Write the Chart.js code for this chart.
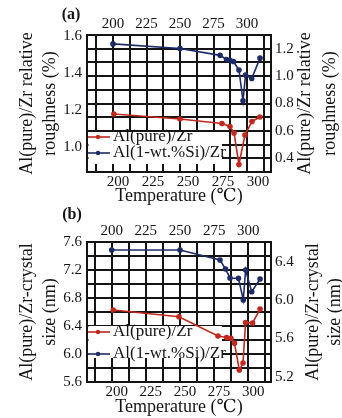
<!DOCTYPE html>
<html><head><meta charset="utf-8">
<script src="https://cdn.jsdelivr.net/npm/chart.js@4.4.1/dist/chart.umd.min.js"></script>
<style>
html,body{margin:0;padding:0;background:#fff;}
#wrap{position:relative;width:342px;height:418px;overflow:hidden;background:#fff;}
canvas{position:absolute;left:0;}
</style></head><body>
<div id="wrap">
<canvas id="ca" width="342" height="205" style="top:0px"></canvas>
<canvas id="cb" width="342" height="213" style="top:205px"></canvas>
</div>
<script>
// ---------- data ----------
const seriesNames = ['Al(pure)/Zr', 'Al(1-wt.%Si)/Zr'];

// Panel (a): relative roughness (%)
const tempPureA  = [197.1, 244.3, 274.3, 280.0, 282.9, 286.4, 290.7, 295.7, 301.4];
const roughPureA = [0.723, 0.687, 0.654, 0.632, 0.585, 0.355, 0.570, 0.669, 0.701];
const tempSiA    = [200, 250, 279.9, 284.7, 287.3, 289.9, 294.0, 297.0, 298.9, 303.5, 309.7];
const roughSiA   = [1.557, 1.532, 1.495, 1.473, 1.468, 1.462, 1.416, 1.250, 1.389, 1.370, 1.480];

// Panel (b): crystal size (nm)
const tempPureB  = [197.5, 245.6, 274.2, 280.5, 283.7, 286.3, 289.8, 292.5, 294.4, 299.5, 305.0];
const sizePureB  = [5.896, 5.826, 5.625, 5.609, 5.601, 5.549, 5.270, 5.343, 5.766, 5.761, 5.906];
const tempSiB    = [200, 250, 279.3, 283.3, 286.6, 292.8, 296.3, 298.0, 302.5, 308.6];
const sizeSiB    = [7.486, 7.486, 7.343, 7.214, 7.086, 7.081, 6.771, 7.200, 6.890, 7.071];

// tick labels
const tempTicks        = [200, 225, 250, 275, 300];
const roughLeftTicksA  = [1.0, 1.2, 1.4, 1.6];
const roughRightTicksA = [0.4, 0.6, 0.8, 1.0, 1.2];
const sizeLeftTicksB   = [5.6, 6.0, 6.4, 6.8, 7.2, 7.6];
const sizeRightTicksB  = [5.2, 5.6, 6.0, 6.4];

// titles
const xTitle = 'Temperature (℃)';
const roughTitle = ['Al(pure)/Zr relative', 'roughness (%)'];
const sizeTitle  = ['Al(pure)/Zr-crystal', 'size (nm)'];

// ---------- drawing ----------
const FONT = 'Liberation Serif, DejaVu Serif, serif';
const INK = 'rgb(20,20,20)';
const RED = 'rgb(192,41,30)';
const BLUE = 'rgb(29,43,102)';
const W = 342;

function pts(xs, ys) { return xs.map((x, i) => ({x: x, y: ys[i]})); }
function stepValues(a, b, s) {
  const out = [];
  for (let k = 0; a + k * s <= b + 1e-9; k++) out.push(Math.round((a + k * s) * 1000) / 1000);
  return out;
}
function has(list, v) { return list.some(t => Math.abs(t - v) < 1e-6); }

function panel(id, P) {
  const H = P.height;
  const tickFont = {family: FONT, size: 15, lineHeight: 1};
  const decor = {
    id: 'decor',
    beforeDatasetsDraw(chart) {
      const {ctx, chartArea: ca} = chart;
      ctx.save();
      ctx.fillStyle = '#ffffff';
      ctx.fillRect(ca.left + 1.5, P.legendTop, P.legendRight - ca.left - 1.5, P.legendBottom - P.legendTop);
      P.legendRows.forEach(row => {
        const y = row.y;
        ctx.strokeStyle = row.color; ctx.lineWidth = 1.6;
        ctx.beginPath(); ctx.moveTo(ca.left + 1, y); ctx.lineTo(ca.left + 23, y); ctx.stroke();
        ctx.fillStyle = row.color;
        ctx.beginPath(); ctx.arc(ca.left + 11, y, 2.2, 0, Math.PI * 2); ctx.fill();
        ctx.fillStyle = INK; ctx.font = '17px ' + FONT;
        ctx.textAlign = 'left'; ctx.textBaseline = 'middle';
        ctx.fillText(row.label, ca.left + 26, y);
      });
      ctx.restore();
    },
    afterDraw(chart) {
      const {ctx, chartArea: ca} = chart;
      ctx.save();
      ctx.fillStyle = INK;
      ctx.textAlign = 'center'; ctx.textBaseline = 'middle';
      ctx.font = 'bold 16px ' + FONT;
      ctx.fillText(P.letter, P.letterX, P.letterY);
      ctx.font = '18px ' + FONT;
      const cy = (ca.top + ca.bottom) / 2;
      const drawV = (txt, x) => {
        ctx.save(); ctx.translate(x, cy); ctx.rotate(-Math.PI / 2);
        ctx.fillText(txt, 0, 0); ctx.restore();
      };
      P.leftTitle.forEach((t, i) => drawV(t, P.leftTitleX[i]));
      P.rightTitle.forEach((t, i) => drawV(t, P.rightTitleX[i]));
      ctx.restore();
    }
  };

  const yAxis = (pos, A, gridOn) => ({
    type: 'linear', axis: 'y', position: pos, min: A.min, max: A.max,
    afterBuildTicks: s => { s.ticks = A.values.map(v => ({value: v})); },
    afterFit: s => { s.width = pos === 'left' ? P.plotLeft : W - P.plotRight; },
    grid: {display: gridOn, drawOnChartArea: true, drawTicks: false, color: INK, lineWidth: 2},
    border: {display: true, color: INK, width: 2},
    ticks: {autoSkip: false, padding: pos === 'left' ? 5 : 4, color: INK, font: tickFont,
            callback: v => has(A.labels, v) ? v.toFixed(1) : ''}
  });

  return new Chart(document.getElementById(id), {
    type: 'line',
    data: {
      datasets: [
        {label: seriesNames[0], data: pts(P.redX, P.redY), xAxisID: 'xb', yAxisID: P.redAxis,
         borderColor: RED, backgroundColor: RED, pointBackgroundColor: RED, fill: false,
         pointBorderColor: RED, borderWidth: 1.6, pointRadius: 2, tension: 0},
        {label: seriesNames[1], data: pts(P.blueX, P.blueY), xAxisID: 'xt', yAxisID: P.blueAxis,
         borderColor: BLUE, backgroundColor: BLUE, pointBackgroundColor: BLUE, fill: false,
         pointBorderColor: BLUE, borderWidth: 1.6, pointRadius: 2, tension: 0}
      ]
    },
    options: {
      responsive: false, animation: false, maintainAspectRatio: false,
      layout: {padding: 0},
      plugins: {legend: {display: false}, tooltip: {enabled: false}},
      scales: {
        xt: {
          type: 'linear', axis: 'x', position: 'top', min: P.xtMin, max: P.xtMax,
          afterBuildTicks: s => { s.ticks = P.vGrid.map(v => ({value: v})); },
          afterFit: s => { s.height = P.plotTop; },
          grid: {display: true, drawOnChartArea: true, drawTicks: false, color: INK, lineWidth: 2},
          border: {display: true, color: INK, width: 2},
          ticks: {autoSkip: false, minRotation: 0, maxRotation: 0, padding: 3, color: INK, font: tickFont,
                  callback: v => has(tempTicks, v) ? String(v) : ''}
        },
        xb: {
          type: 'linear', axis: 'x', position: 'bottom', min: P.xbMin, max: P.xbMax,
          afterBuildTicks: s => { s.ticks = tempTicks.map(v => ({value: v})); },
          afterFit: s => { s.height = H - P.plotBottom; },
          grid: {display: false, drawTicks: false},
          border: {display: true, color: INK, width: 2},
          ticks: {autoSkip: false, minRotation: 0, maxRotation: 0, padding: 3, color: INK, font: tickFont,
                  callback: v => String(v)},
          title: {display: true, text: xTitle, color: INK,
                  font: {family: FONT, size: 18, lineHeight: 1}, padding: {top: 0, bottom: P.xTitlePad}}
        },
        yl: yAxis('left', P.yl, P.hGridAxis === 'yl'),
        yr: yAxis('right', P.yr, P.hGridAxis === 'yr')
      }
    },
    plugins: [decor]
  });
}

panel('ca', {
  height: 205, plotTop: 35, plotBottom: 172, plotLeft: 87, plotRight: 271,
  xtMin: 180.6, xtMax: 317.9, xbMin: 177.9, xbMax: 309.3, xTitlePad: 0,
  yl: {min: 0.865, max: 1.605, values: roughLeftTicksA, labels: roughLeftTicksA},
  yr: {min: 0.3, max: 1.3, values: stepValues(0.4, 1.2, 0.1), labels: roughRightTicksA},
  vGrid: stepValues(187.5, 312.5, 12.5), hGridAxis: 'yr',
  redX: tempPureA, redY: roughPureA, redAxis: 'yr',
  blueX: tempSiA, blueY: roughSiA, blueAxis: 'yl',
  letter: '(a)', letterX: 71, letterY: 15,
  leftTitle: roughTitle, leftTitleX: [27, 50],
  rightTitle: roughTitle, rightTitleX: [305, 330],
  legendTop: 132, legendBottom: 164, legendRight: 222,
  legendRows: [{y: 137, color: RED, label: seriesNames[0]}, {y: 153, color: BLUE, label: seriesNames[1]}]
});

panel('cb', {
  height: 213, plotTop: 37, plotBottom: 177, plotLeft: 87, plotRight: 271,
  xtMin: 181.9, xtMax: 316.6, xbMin: 178.3, xbMax: 313.0, xTitlePad: 1.5,
  yl: {min: 5.6, max: 7.6, values: stepValues(5.8, 7.4, 0.2).concat([5.6, 7.6]), labels: sizeLeftTicksB},
  yr: {min: 5.145, max: 6.606, values: sizeRightTicksB, labels: sizeRightTicksB},
  vGrid: stepValues(187.5, 312.5, 12.5), hGridAxis: 'yl',
  redX: tempPureB, redY: sizePureB, redAxis: 'yr',
  blueX: tempSiB, blueY: sizeSiB, blueAxis: 'yl',
  letter: '(b)', letterX: 72, letterY: 10,
  leftTitle: sizeTitle, leftTitleX: [27, 50],
  rightTitle: sizeTitle, rightTitleX: [313, 335],
  legendTop: 121, legendBottom: 153, legendRight: 222,
  legendRows: [{y: 127, color: RED, label: seriesNames[0]}, {y: 149, color: BLUE, label: seriesNames[1]}]
});
</script>
</body></html>
